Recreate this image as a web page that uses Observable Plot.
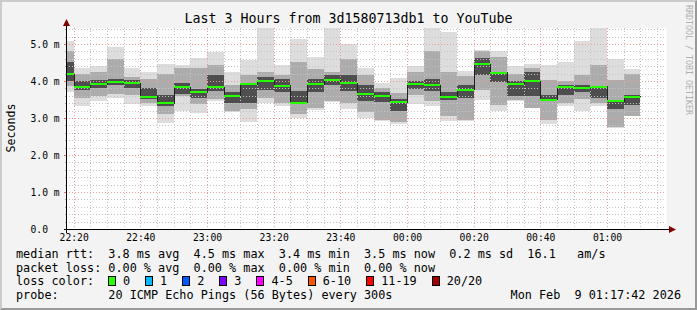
<!DOCTYPE html>
<html><head><meta charset="utf-8">
<script src="https://cdn.jsdelivr.net/npm/d3@7"></script>
<script src="https://cdn.jsdelivr.net/npm/@observablehq/plot@0.6"></script>
<style>
html,body{margin:0;padding:0;background:#f3f3f3;}
#wrap{position:relative;width:697px;height:310px;background:#f3f3f3;overflow:hidden;font-family:"DejaVu Sans Mono",monospace;color:#000;}
#frame{position:absolute;left:0;top:0;width:697px;height:310px;box-sizing:border-box;border-style:solid;border-width:2px;border-color:#cbcbcb #999 #999 #cbcbcb;pointer-events:none;}
#chart{position:absolute;left:0;top:0;}
.t{position:absolute;white-space:pre;font-size:11.8px;line-height:14px;}
#title{position:absolute;left:0;top:11px;width:697px;text-align:center;font-size:13.3px;line-height:16px;white-space:pre;}
#ylab{position:absolute;left:-39.5px;top:120px;width:100px;height:16px;line-height:16px;text-align:center;font-size:11.6px;transform:rotate(-90deg);}
#wm{position:absolute;left:684px;top:5px;writing-mode:vertical-rl;font-size:8.3px;line-height:9px;color:#b0b0b0;white-space:pre;}
#loss{position:absolute;left:108px;top:274px;display:flex;align-items:center;height:14px;font-size:11.8px;white-space:pre;}
#loss .box{display:inline-block;width:8px;height:10px;box-sizing:border-box;border:1px solid #000;margin-right:7px;}
#loss .lab{margin-right:15px;}
</style></head>
<body>
<div id="wrap">
  <div id="chart"></div>
  <div id="title"></div>
  <div id="ylab"></div>
  <div id="wm"></div>
  <div class="t" id="row1" style="left:16px;top:247px;"></div>
  <div class="t" id="row2" style="left:16px;top:261px;"></div>
  <div class="t" id="row3" style="left:16px;top:274px;"></div>
  <div id="loss"></div>
  <div class="t" id="row4" style="left:16px;top:288px;"></div>
  <div class="t" id="date" style="right:16px;top:288px;"></div>
  <div id="frame"></div>
</div>
<script>
// ---- data ----
const titleText = "Last 3 Hours from 3d1580713db1 to YouTube";
const yLabel = "Seconds";
const watermark = "RRDTOOL / TOBI OETIKER";
const endTime = "2026-02-09T01:17:42Z";
const spanHours = 3;
const slots = ["22:15","22:20","22:25","22:30","22:35","22:40","22:45","22:50","22:55",
  "23:00","23:05","23:10","23:15","23:20","23:25","23:30","23:35","23:40","23:45","23:50","23:55",
  "00:00","00:05","00:10","00:15","00:20","00:25","00:30","00:35","00:40","00:45","00:50","00:55",
  "01:00","01:05"];
// values in ms
const median  = [4.19,3.84,3.92,3.98,3.95,3.58,3.41,3.84,3.71,3.84,3.62,3.93,4.00,3.89,3.43,3.92,4.03,3.95,3.65,3.62,3.44,3.93,3.90,3.59,3.77,4.47,4.23,3.93,4.00,3.51,3.86,3.82,3.86,3.46,3.58];
const pingMin = [3.71,3.31,3.46,3.55,3.38,3.32,2.87,3.19,3.13,3.45,3.17,2.90,3.40,3.31,2.99,3.22,3.44,3.24,2.99,2.93,2.83,3.37,3.31,2.91,2.93,3.49,3.19,3.46,3.26,2.85,3.33,3.20,3.31,2.72,3.04];
const pingMax = [5.08,4.36,4.39,4.93,4.36,4.23,4.45,4.43,4.63,4.79,4.25,4.57,5.44,4.43,5.14,4.64,5.44,5.00,4.35,3.95,4.07,4.39,5.42,5.31,4.28,4.84,4.82,4.41,4.45,4.43,4.50,5.08,5.44,4.58,4.32];
const midLo   = [3.85,3.55,3.60,3.65,3.62,3.40,3.10,3.60,3.38,3.50,3.20,3.25,3.55,3.40,3.10,3.26,3.45,3.40,3.15,2.95,2.90,3.62,3.45,3.05,2.95,3.75,3.35,3.49,3.28,2.95,3.40,3.50,3.40,2.75,3.05];
const midHi   = [4.80,4.20,4.25,4.60,4.10,4.05,4.20,4.35,4.35,4.43,3.90,4.15,4.25,4.15,4.50,4.33,4.25,4.60,4.16,3.80,3.68,4.25,4.80,4.25,4.12,4.80,4.66,4.20,4.34,4.03,4.00,4.16,4.43,4.03,4.20];
const innerLo = [4.00,3.75,3.80,3.88,3.80,3.52,3.32,3.65,3.55,3.72,3.40,3.40,3.75,3.70,3.38,3.70,3.90,3.72,3.45,3.42,3.20,3.77,3.72,3.48,3.55,4.15,3.98,3.60,3.60,3.47,3.62,3.71,3.53,3.25,3.35];
const innerHi = [4.50,4.00,4.02,4.05,4.02,3.80,3.62,3.95,3.78,4.15,3.70,3.90,4.10,4.05,3.72,4.05,4.15,4.15,3.90,3.70,3.50,4.00,4.05,3.70,3.90,4.62,4.25,4.00,4.25,3.62,3.89,3.89,3.84,3.48,3.62];
const rttStats  = ["3.8 ms avg","4.5 ms max","3.4 ms min","3.5 ms now","0.2 ms sd","16.1   am/s"];
const lossStats = ["0.00 % avg","0.00 % max","0.00 % min","0.00 % now"];
const lossLabels = ["0","1","2","3","4-5","6-10","11-19","20/20"];
const lossColors = ["#26ff00","#00b8ff","#0059ff","#7e00ff","#ff00ff","#ff5500","#ff0000","#a10000"];
const probeText = "20 ICMP Echo Pings (56 Bytes) every 300s";
const dateText = "Mon Feb  9 01:17:42 2026";
const yTicks = [0,1,2,3,4,5];
const yTop = 5.43;

// ---- build ----
const end = new Date(endTime);
const start = new Date(+end - spanHours*3600e3);
const stepMs = 5*60e3;
function slotDate(s){const [h,m]=s.split(":").map(Number);return new Date(Date.UTC(2026,1,h>=12?8:9,h,m));}
const bars = slots.map((s,i)=>({t0:slotDate(s),t1:new Date(+slotDate(s)+stepMs),median:median[i],min:pingMin[i],max:pingMax[i],mlo:midLo[i],mhi:midHi[i],ilo:innerLo[i],ihi:innerHi[i]}));
const stepPts = bars.map(b=>({t:b.t0,v:b.median}));
stepPts.push({t:bars[bars.length-1].t1,v:bars[bars.length-1].median});

const majorX = d3.utcMinute.every(20).range(start,end);
const minorX = d3.utcMinute.every(5).range(start,end).filter(d=>d.getUTCMinutes()%20!==0);
const allY = d3.range(1,Math.floor(yTop*5)+1).map(i=>i/5);
const majorY = allY.filter(v=>Math.abs(v-Math.round(v))<1e-9);
const minorY = allY.filter(v=>Math.abs(v-Math.round(v))>=1e-9);

const crisp = {shapeRendering:"crispEdges"};
const plot = Plot.plot({
  width:697, height:245, marginLeft:66, marginRight:31, marginTop:28, marginBottom:16,
  x:{type:"utc", domain:[start,end], axis:null},
  y:{domain:[0,yTop], axis:null},
  style:{fontFamily:"DejaVu Sans Mono", fontSize:"9.7px", background:"transparent", color:"#000", overflow:"visible"},
  marks:[
    Plot.frame({fill:"#ffffff", stroke:"none"}),
    Plot.rect(bars,{x1:"t0",x2:"t1",y1:"min",y2:"max",fill:"#dddddd",clip:true,...crisp}),
    Plot.rect(bars,{x1:"t0",x2:"t1",y1:"mlo",y2:"mhi",fill:"#acacac",clip:true,...crisp}),
    Plot.rect(bars,{x1:"t0",x2:"t1",y1:"ilo",y2:"ihi",fill:"#4e4e4e",clip:true,...crisp}),
    Plot.ruleX(minorX,{stroke:"#c4c4c4",strokeDasharray:"1,2",...crisp}),
    Plot.ruleY(minorY,{stroke:"#c4c4c4",strokeDasharray:"1,2",...crisp}),
    Plot.ruleX(majorX,{stroke:"#ec9c9c",strokeDasharray:"1,2",...crisp}),
    Plot.ruleY(majorY,{stroke:"#ec9c9c",strokeDasharray:"1,2",...crisp}),
    Plot.line(stepPts,{x:"t",y:"v",curve:"step-after",stroke:"#202020",strokeWidth:1,clip:true,...crisp}),
    Plot.ruleY(bars,{y:"median",x1:"t0",x2:"t1",stroke:"#26ff00",strokeWidth:2,clip:true,...crisp}),
    Plot.axisX({ticks:majorX,tickFormat:d3.utcFormat("%H:%M"),tickSize:0,tickPadding:5,fontSize:9.7}),
    Plot.axisY({ticks:yTicks,tickFormat:v=>v===0?"0.0":v.toFixed(1)+" m",tickSize:0,tickPadding:0,textAnchor:"start",dx:-36,fontSize:9.7})
  ]
});
document.getElementById("chart").appendChild(plot);

// axes lines, ticks & arrows
const sx = plot.scale("x"), sy = plot.scale("y");
const px = sx.apply ? v=>sx.apply(v) : d3.scaleUtc(sx.domain,sx.range);
const py = sy.apply ? v=>sy.apply(v) : d3.scaleLinear(sy.domain,sy.range);
const svg = d3.select(plot);
const g = svg.append("g").attr("shape-rendering","crispEdges");
const x0 = Math.round(px(start))+0.5, y0 = Math.round(py(0))+0.5, xr = Math.round(px(end)), yt = Math.round(py(yTop));
minorY.forEach(v=>{const y=Math.round(py(v))+0.5;g.append("line").attr("x1",x0-2).attr("x2",x0).attr("y1",y).attr("y2",y).attr("stroke","#aaa");});
majorY.forEach(v=>{const y=Math.round(py(v))+0.5;g.append("line").attr("x1",x0-3).attr("x2",x0).attr("y1",y).attr("y2",y).attr("stroke","#e07070");});
g.append("line").attr("x1",x0-3).attr("x2",xr+4).attr("y1",y0).attr("y2",y0).attr("stroke","#000");
g.append("line").attr("x1",x0).attr("x2",x0).attr("y1",y0+3).attr("y2",yt-3).attr("stroke","#000");
svg.append("path").attr("d",`M${xr+3},${y0-3.5}L${xr+10},${y0}L${xr+3},${y0+3.5}Z`).attr("fill","#7f0000");
svg.append("path").attr("d",`M${x0-3.5},${yt-2}L${x0},${yt-9}L${x0+3.5},${yt-2}Z`).attr("fill","#7f0000");

// texts
document.getElementById("title").textContent = titleText;
document.getElementById("ylab").textContent = yLabel;
document.getElementById("wm").textContent = watermark;
document.getElementById("row1").textContent = "median rtt:  " + rttStats.join("  ");
document.getElementById("row2").textContent = "packet loss: " + lossStats.join("  ");
document.getElementById("row3").textContent = "loss color:";
document.getElementById("row4").textContent = "probe:       " + probeText;
document.getElementById("date").textContent = dateText;
const loss = document.getElementById("loss");
lossLabels.forEach((l,i)=>{
  const b=document.createElement("span");b.className="box";b.style.background=lossColors[i];loss.appendChild(b);
  const t=document.createElement("span");t.className="lab";t.textContent=l;loss.appendChild(t);
});
</script>
</body></html>
